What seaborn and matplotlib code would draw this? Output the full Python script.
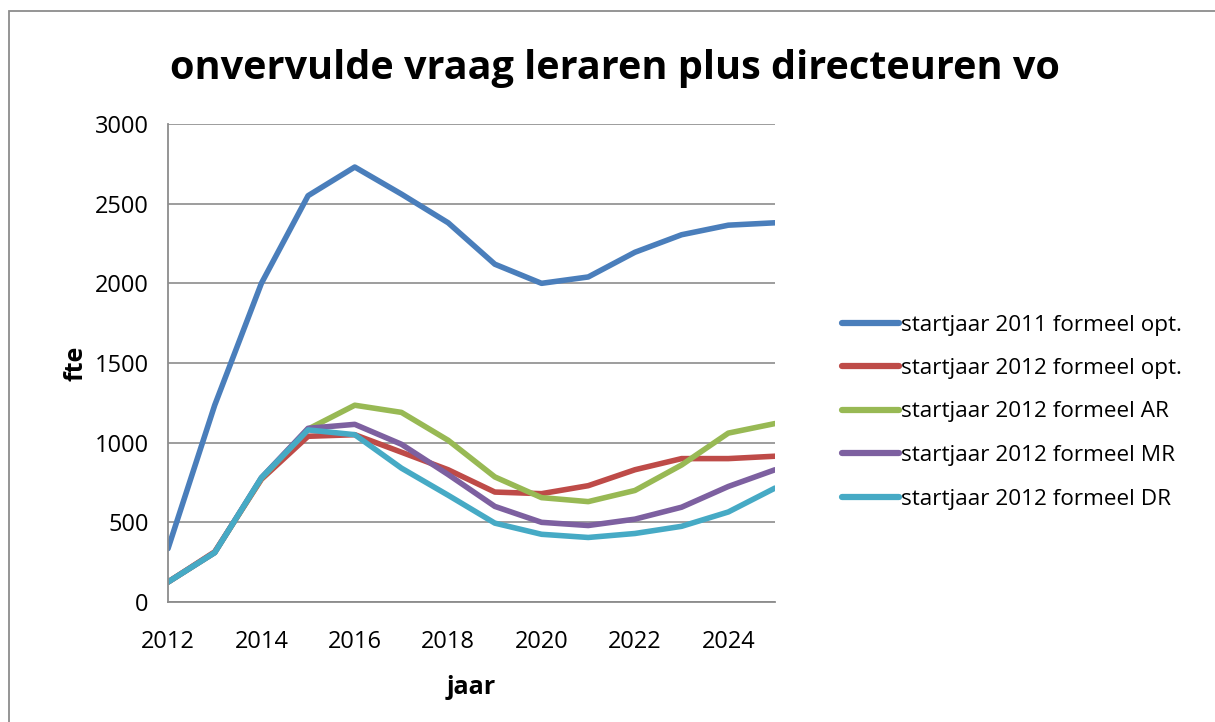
import matplotlib
matplotlib.use("Agg")
import matplotlib.pyplot as plt
import seaborn as sns
import pandas as pd
from matplotlib.patches import Rectangle

years = list(range(2012, 2026))
s2011_opt = [335, 1235, 2000, 2550, 2730, 2560, 2380, 2120, 2000, 2040, 2195, 2305, 2365, 2380]
s2012_opt = [125, 315, 770, 1040, 1050, 940, 830, 690, 680, 730, 830, 900, 900, 915]
s2012_ar = [125, 310, 775, 1085, 1235, 1190, 1015, 785, 655, 630, 700, 860, 1060, 1120]
s2012_mr = [125, 310, 780, 1090, 1115, 990, 800, 600, 500, 480, 520, 595, 725, 830]
s2012_dr = [125, 310, 780, 1080, 1050, 840, 670, 495, 425, 405, 430, 475, 565, 715]

labels = ["startjaar 2011 formeel opt.", "startjaar 2012 formeel opt.",
          "startjaar 2012 formeel AR", "startjaar 2012 formeel MR",
          "startjaar 2012 formeel DR"]
colors = ["#4A7EBB", "#BE4B48", "#98B954", "#7D60A0", "#46AAC5"]

series = [s2011_opt, s2012_opt, s2012_ar, s2012_mr, s2012_dr]
df = pd.concat([pd.DataFrame({"jaar": years, "fte": v, "reeks": lab})
                for v, lab in zip(series, labels)], ignore_index=True)

sns.set_theme(style="white")
plt.rcParams["font.family"] = ["Open Sans", "DejaVu Sans"]
plt.rcParams["text.color"] = "black"
plt.rcParams["axes.labelcolor"] = "black"

W, H = 1215, 722
fig = plt.figure(figsize=(W / 100, H / 100), dpi=100)
fig.patches.append(Rectangle((9 / W, -1), 3, 2 - 11 / H, transform=fig.transFigure,
                             fill=False, edgecolor="#8C8C8C", linewidth=1.3))
ax = fig.add_axes([168 / W, 1 - 602 / H, (775 - 168) / W, (602 - 124) / H])

sns.lineplot(data=df, x="jaar", y="fte", hue="reeks", palette=colors,
             hue_order=labels, linewidth=4, ax=ax, sort=False)

ax.set_xlim(2012, 2025)
ax.set_ylim(0, 3000)
ax.set_xticks(range(2012, 2026, 2))
ax.set_yticks(range(0, 3001, 500))
ax.tick_params(axis="both", labelsize=17, length=0, colors="black")
ax.tick_params(axis="y", pad=14)
ax.tick_params(axis="x", pad=20)
ax.yaxis.grid(True, color="#8C8C8C", linewidth=1.2)
ax.xaxis.grid(False)
for side in ["top", "right"]:
    ax.spines[side].set_visible(False)
for side in ["left", "bottom"]:
    ax.spines[side].set_color("#8C8C8C")
    ax.spines[side].set_linewidth(1.3)
ax.set_axisbelow(True)

ax.set_xlabel("jaar", fontsize=18, fontweight="bold", labelpad=15, color="black")
ax.set_ylabel("fte", fontsize=18, fontweight="bold", labelpad=4, color="black")

fig.text(615 / W, 1 - 68 / H, "onvervulde vraag leraren plus directeuren vo",
         ha="center", va="center", fontsize=28.5, fontweight="bold", color="black")

leg = ax.legend(loc="center left", bbox_to_anchor=(822 / W, 1 - 412 / H),
                bbox_transform=fig.transFigure, frameon=False, fontsize=16.2,
                handlelength=2.5, handletextpad=0.1, labelspacing=1.0)
for line in leg.get_lines():
    line.set_linewidth(4.5)
for t in leg.get_texts():
    t.set_color("black")

fig.savefig("out.png", dpi=100)
